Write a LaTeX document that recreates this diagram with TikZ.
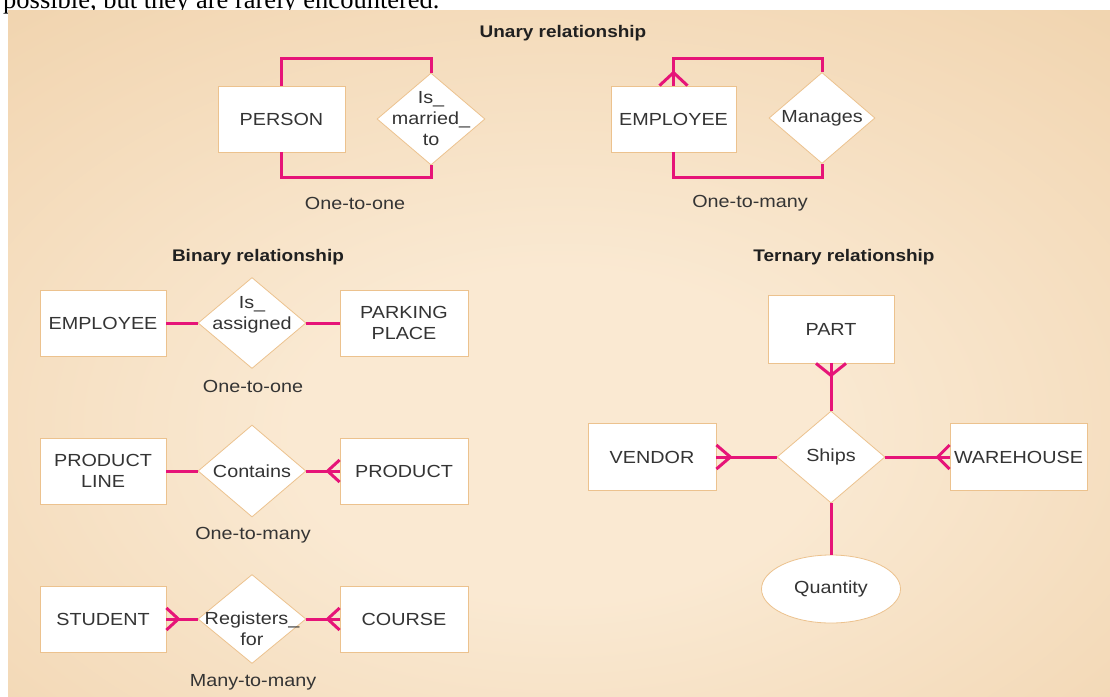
\documentclass[tikz,border=0pt]{standalone}
\usepackage{fontspec}
\setmainfont{Liberation Sans}[FakeStretch=1.13]
\newfontfamily\notefont{Liberation Serif}
\usetikzlibrary{shapes.geometric}

\definecolor{pinkline}{RGB}{230,20,120}
\definecolor{boxedge}{RGB}{236,194,142}
\definecolor{inktext}{RGB}{52,52,52}
\definecolor{headink}{RGB}{32,32,32}
\definecolor{bglight}{RGB}{250,233,210}
\definecolor{bgmid}{RGB}{239,208,168}
\definecolor{bgdark}{RGB}{229,189,141}

% warm glow behind the diagrams
\pgfdeclareradialshading{bgglow}{\pgfpoint{0bp}{-7bp}}{%
  color(0bp)=(bglight); color(12bp)=(bglight); color(44bp)=(bgmid);
  color(72bp)=(bgdark); color(90bp)=(bgdark)}

\newcommand\lblfont{\fontsize{17.5}{21}\selectfont}

\tikzset{
  entity/.style={rectangle, draw=boxedge, line width=0.8pt, fill=white,
    minimum width=126pt, minimum height=66pt, inner sep=0pt,
    text=inktext, font=\lblfont, align=center},
  rel/.style={diamond, draw=boxedge, line width=0.8pt, fill=white,
    minimum width=108pt, minimum height=92pt, inner sep=0pt},
  attr/.style={ellipse, draw=boxedge, line width=0.8pt, fill=white,
    minimum width=139pt, minimum height=68pt, inner sep=0pt,
    text=inktext, font=\lblfont},
  lbl/.style={text=inktext, font=\lblfont, align=center, inner sep=0pt},
  heading/.style={text=headink, font=\fontsize{16.8}{20}\selectfont\bfseries, inner sep=0pt},
  rline/.style={draw=pinkline, line width=3pt},
}

\begin{document}
\begin{tikzpicture}[x=1pt,y=-1pt]
\useasboundingbox (0,0) rectangle (1110,696);
\clip (0,0) rectangle (1110,696);

% running text above the figure
\node[anchor=base west, inner sep=0pt, font=\notefont\fontsize{26.5}{30}\selectfont]
  (note) at (3,8.5) {possible, but they are rarely encountered.};

% figure background
\shade[shading=bgglow] (8,10) rectangle (1110,696);

% ---------- unary ----------
\node[heading] (unaryT) at (563,33) {Unary relationship};

\node[entity, minimum width=127pt] (person) at (281.5,119) {PERSON};
\node[rel] (married) at (431,119) {};
\node[lbl] (marriedT) at (married) {Is\_\\married\_\\to};
\draw[rline] (person.north) -- ++(0,-27) -| (married.north);
\draw[rline] (person.south) -- ++(0,25) -| (married.south);
\node[lbl] (oneone1) at (355,203) {One-to-one};

\node[entity, minimum width=125pt] (emp1) at (673.5,119) {EMPLOYEE};
\node[rel, minimum width=106pt, minimum height=91pt] (manages) at (822,118) {};
\node[lbl] (managesT) at (manages) {Manages};
\draw[rline] (emp1.north) -- ++(0,-27) -| (manages.north);
\draw[rline] (emp1.south) -- ++(0,25) -| (manages.south);
\draw[rline] (emp1.north) ++(0,-13) -- ++(-14,13) ++(14,-13) -- ++(14,13);
\node[lbl] (onemany1) at (750,203) {One-to-many};

% ---------- binary ----------
\node[heading] (binaryT) at (258,257) {Binary relationship};

\node[entity] (emp2) at (103,323) {EMPLOYEE};
\node[rel, minimum height=91pt] (assigned) at (252,323) {};
\node[lbl] (assignedT) at (252,315) {Is\_\\assigned};
\node[entity, minimum width=128pt] (parking) at (404,323) {PARKING\\PLACE};
\draw[rline] (emp2.east) -- (assigned.west);
\draw[rline] (assigned.east) -- (parking.west);
\node[lbl] (oneone2) at (253,386) {One-to-one};

\node[entity] (pline) at (103,471) {PRODUCT\\LINE};
\node[rel] (contains) at (252,471) {};
\node[lbl] (containsT) at (contains) {Contains};
\node[entity, minimum width=128pt] (product) at (404,471) {PRODUCT};
\draw[rline] (pline.east) -- (contains.west);
\draw[rline] (contains.east) -- (product.west);
\draw[rline] (product.west) ++(-12,0) -- ++(12,-11) ++(-12,11) -- ++(12,11);
\node[lbl] (onemany2) at (253,535) {One-to-many};

\node[entity] (student) at (103,619) {STUDENT};
\node[rel, minimum height=89pt] (registers) at (252,619) {};
\node[lbl] (registersT) at (252,628.5) {Registers\_\\for};
\node[entity, minimum width=128pt] (course) at (404,619) {COURSE};
\draw[rline] (student.east) -- (registers.west);
\draw[rline] (registers.east) -- (course.west);
\draw[rline] (student.east) ++(12,0) -- ++(-12,-11) ++(12,11) -- ++(-12,11);
\draw[rline] (course.west) ++(-12,0) -- ++(12,-11) ++(-12,11) -- ++(12,11);
\node[lbl] (manymany) at (253,682) {Many-to-many};

% ---------- ternary ----------
\node[heading] (ternaryT) at (844,257) {Ternary relationship};

\node[entity, minimum height=68pt] (part) at (831,329) {PART};
\node[rel] (ships) at (831,457) {};
\node[lbl] (shipsT) at (ships) {Ships};
\node[entity, minimum width=128pt, minimum height=67pt] (vendor) at (652,457) {VENDOR};
\node[entity, minimum width=137pt, minimum height=67pt] (warehouse) at (1018.5,457) {WAREHOUSE};
\node[attr] (quantity) at (831,589) {Quantity};

\draw[rline] (ships.north) -- (part.south);
\draw[rline] (part.south) ++(0,12) -- ++(-15,-12) ++(15,12) -- ++(15,-12);
\draw[rline] (ships.west) -- (vendor.east);
\draw[rline] (vendor.east) ++(14,0) -- ++(-14,-12) ++(14,12) -- ++(-14,12);
\draw[rline] (ships.east) -- (warehouse.west);
\draw[rline] (warehouse.west) ++(-12,0) -- ++(12,-12) ++(-12,12) -- ++(12,12);
\draw[rline] (ships.south) -- (quantity.north);

\end{tikzpicture}
\end{document}
